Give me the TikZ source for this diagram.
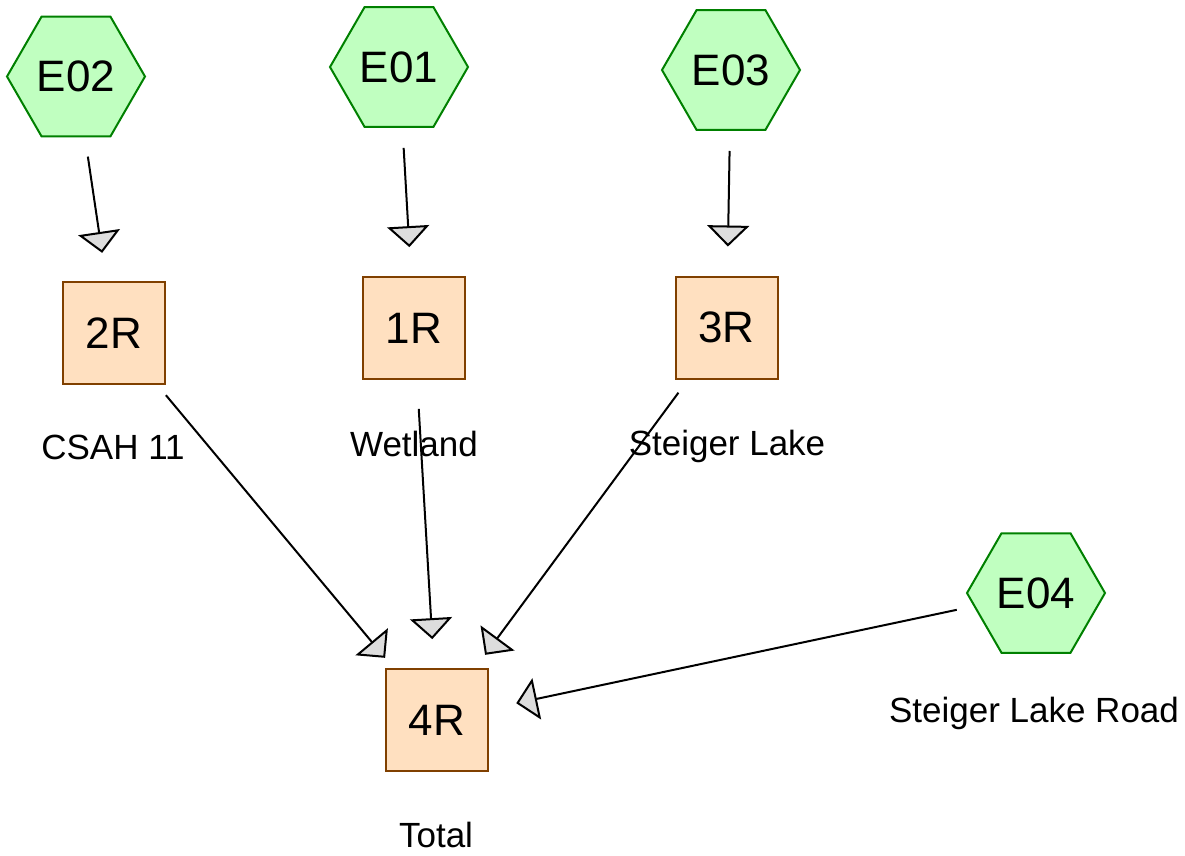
\documentclass[tikz,border=0pt]{standalone}
\usepackage{fontspec}
\setmainfont{Liberation Sans}
\usetikzlibrary{shapes.geometric,arrows.meta}
\definecolor{hexfill}{HTML}{C0FFC0}
\definecolor{hexdraw}{HTML}{008000}
\definecolor{sqfill}{HTML}{FFE0C0}
\definecolor{sqdraw}{HTML}{804000}
\definecolor{tipfill}{HTML}{DDDDDD}
\tikzset{
  hexnode/.style={shape=regular polygon, regular polygon sides=6, minimum size=138pt, inner sep=0pt,
    fill=hexfill, draw=hexdraw, line width=2pt, font=\fontsize{44}{44}\selectfont},
  sqnode/.style={shape=rectangle, minimum size=102pt, inner sep=0pt,
    fill=sqfill, draw=sqdraw, line width=2pt, font=\fontsize{44}{44}\selectfont},
  lbl/.style={anchor=base, inner sep=0pt, font=\fontsize{35}{35}\selectfont},
  conn/.style={line width=2pt, draw=black, shorten <=81pt, shorten >=81pt,
    -{Triangle[length=21pt,width=42pt,fill=tipfill]}}
}
\begin{document}
\begin{tikzpicture}[x=1pt,y=-1pt]
\useasboundingbox (0,0) rectangle (1185,855);
\node[hexnode] (E02) at (76,76.5) {E02};
\node[hexnode] (E01) at (399,67) {E01};
\node[hexnode] (E03) at (731,70) {E03};
\node[hexnode] (E04) at (1036,593) {E04};
\node[sqnode] (R2) at (114,333) {2R};
\node[sqnode] (R1) at (414,328) {1R};
\node[sqnode] (R3) at (726.5,327.5) {3R};
\node[sqnode] (R4) at (437,720) {4R};
\node[lbl] (L2) at (113,459) {CSAH 11};
\node[lbl] (L1) at (414,456) {Wetland};
\node[lbl] (L3) at (727,455) {Steiger Lake};
\node[lbl] (L5) at (1034,722) {Steiger Lake Road};
\node[lbl] (L4) at (436,847) {Total};
\draw[conn] (E02.center) -- (R2.center);
\draw[conn] (E01.center) -- (R1.center);
\draw[conn] (E03.center) -- (R3.center);
\draw[conn] (R2.center) -- (R4.center);
\draw[conn] (R1.center) -- (R4.center);
\draw[conn] (R3.center) -- (R4.center);
\draw[conn] (E04.center) -- (R4.center);
\end{tikzpicture}
\end{document}
